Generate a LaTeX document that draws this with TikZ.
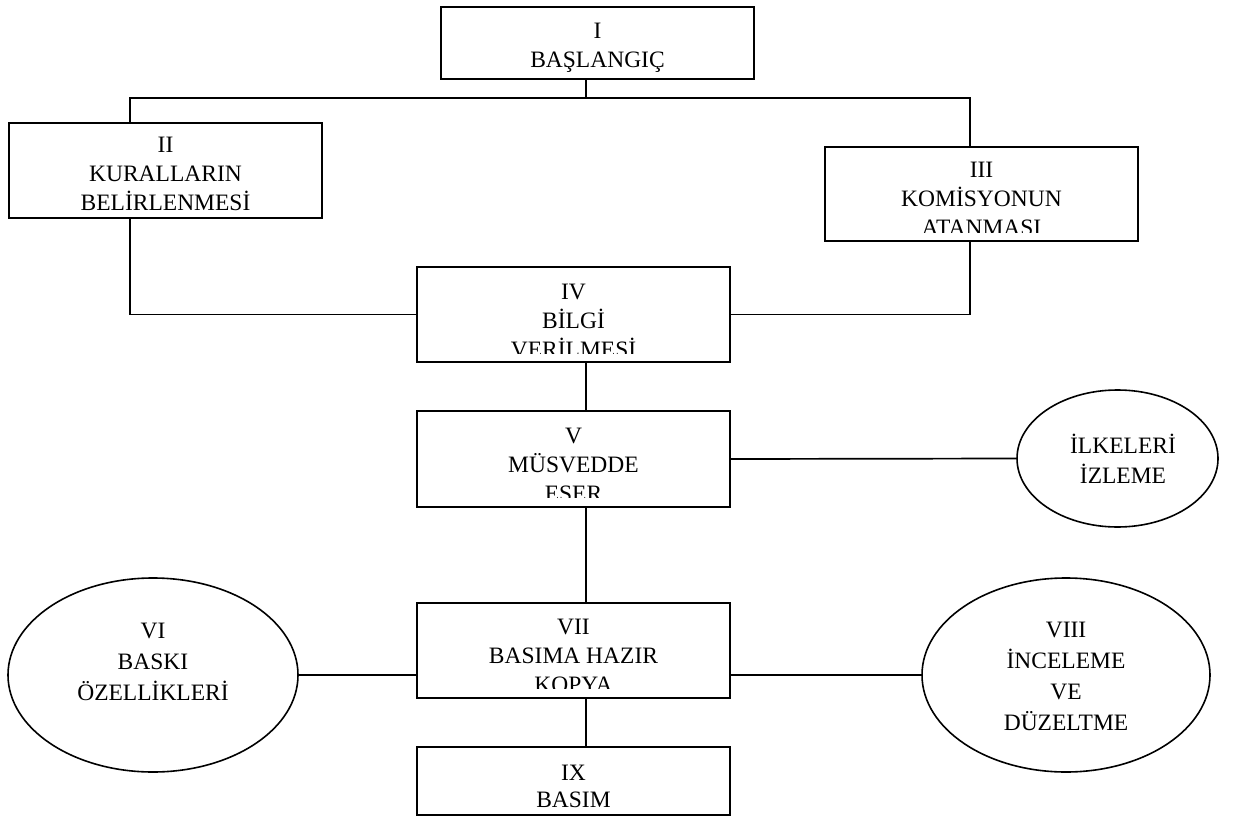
\documentclass[tikz,border=0pt]{standalone}
\usepackage{fontspec}
\setmainfont{Liberation Serif}
\usetikzlibrary{shapes.geometric,calc}
\tikzset{
  boxnode/.style={draw, line width=1.9pt, rectangle, inner sep=0pt},
  ellnode/.style={draw, line width=1.6pt, ellipse, inner sep=0pt},
  txt/.style={anchor=base, align=center, inner sep=0pt, font=\fontsize{23.5}{29}\selectfont},
  etxt/.style={txt, font=\fontsize{23.5}{31}\selectfont},
  conn/.style={line width=1.7pt}
}
\begin{document}
\begin{tikzpicture}[x=1pt,y=-1pt]
\useasboundingbox (0,0) rectangle (1236,821);
% boxes
\node[boxnode, minimum width=313pt, minimum height=72pt] (b1) at (597.5,43) {};
\node[boxnode, minimum width=313pt, minimum height=95pt] (b2) at (165.5,170.5) {};
\node[boxnode, minimum width=313pt, minimum height=94pt] (b3) at (981.5,194) {};
\node[boxnode, minimum width=313pt, minimum height=95pt] (b4) at (573.5,314.5) {};
\node[boxnode, minimum width=313pt, minimum height=96pt] (b5) at (573.5,459) {};
\node[boxnode, minimum width=313pt, minimum height=95pt] (b7) at (573.5,650.5) {};
\node[boxnode, minimum width=313pt, minimum height=68pt] (b9) at (573.5,781) {};
% ellipses
\node[ellnode, minimum width=201pt, minimum height=137pt] (e1) at (1117.5,458.5) {};
\node[ellnode, minimum width=290pt, minimum height=194pt] (e6) at (153,675) {};
\node[ellnode, minimum width=288pt, minimum height=194pt] (e8) at (1066,675) {};
% texts (clipped like the original text boxes); anchor = baseline of last line
\begin{scope}\clip (441,7) rectangle (754,74);
\node[txt] (t1) at (597.5,68) {I\\BAŞLANGIÇ};
\end{scope}
\begin{scope}\clip (9,123) rectangle (322,210.5);
\node[txt] (t2) at (165.5,211) {II\\KURALLARIN\\BELİRLENMESİ};
\end{scope}
\begin{scope}\clip (825,147) rectangle (1138,232);
\node[txt] (t3) at (981.5,235) {III\\KOMİSYONUN\\ATANMASI};
\end{scope}
\begin{scope}\clip (417,267) rectangle (730,353);
\node[txt] (t4) at (573.5,357) {IV\\BİLGİ\\VERİLMESİ};
\end{scope}
\begin{scope}\clip (417,411) rectangle (730,497);
\node[txt] (t5) at (573.5,501) {V\\MÜSVEDDE\\ESER};
\end{scope}
\begin{scope}\clip (417,603) rectangle (730,688);
\node[txt] (t7) at (573.5,692) {VII\\BASIMA HAZIR\\KOPYA};
\end{scope}
\node[txt, font=\fontsize{23.5}{27}\selectfont] (t9) at (573.5,807) {IX\\BASIM};
\node[etxt, font=\fontsize{23.5}{30}\selectfont] (te1) at (1123,483) {İLKELERİ\\İZLEME};
\node[etxt] (te6) at (153,700) {VI\\BASKI\\ÖZELLİKLERİ};
\node[etxt, font=\fontsize{23.5}{30.7}\selectfont] (te8) at (1066,730) {VIII\\İNCELEME\\VE\\DÜZELTME};
% connectors
\coordinate (bus) at (586,98);
\coordinate (busL) at (130,98);
\coordinate (busR) at (970,98);
\draw[conn] (bus |- b1.south) -- (bus);
\draw[conn] (busL |- b2.north) -- (busL) -- (busR) -- (busR |- b3.north);
\draw[conn] (busL |- b2.south) |- (b4.west);
\draw[conn] (busR |- b3.south) |- (b4.east);
\draw[conn] (bus |- b4.south) -- (bus |- b5.north);
\draw[conn] (b5.east) -- (e1.west);
\draw[conn] (bus |- b5.south) -- (bus |- b7.north);
\draw[conn] (e6.east) -- (e6.east -| b7.west);
\draw[conn] (e8.west -| b7.east) -- (e8.west);
\draw[conn] (bus |- b7.south) -- (bus |- b9.north);
\end{tikzpicture}
\end{document}
